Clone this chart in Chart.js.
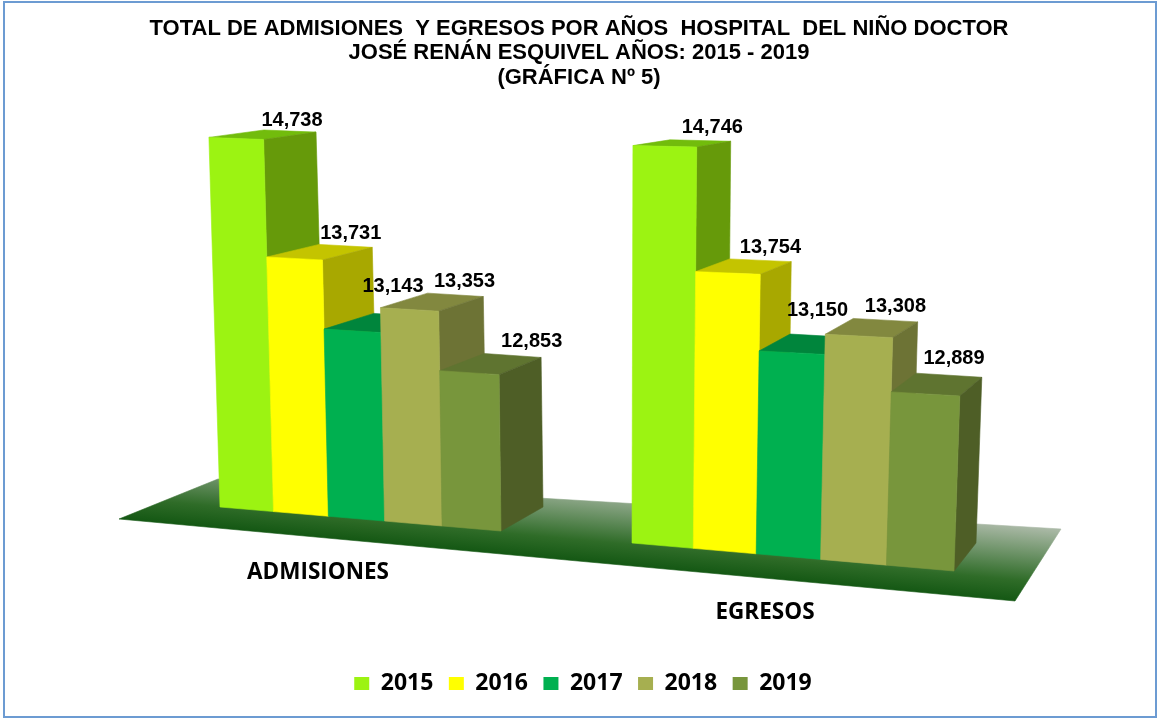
<!DOCTYPE html>
<html>
<head>
<meta charset="utf-8">
<title>Admisiones y egresos</title>
<script src="https://cdn.jsdelivr.net/npm/chart.js@4"></script>
<style>
  html, body { margin: 0; padding: 0; background: #fff; }
  canvas { display: block; }
</style>
</head>
<body>
<canvas id="grafica" width="1158" height="719"></canvas>
<script>
const categories = ['ADMISIONES', 'EGRESOS'];
const years = ['2015', '2016', '2017', '2018', '2019'];
const values2015 = [14738, 14746];
const values2016 = [13731, 13754];
const values2017 = [13143, 13150];
const values2018 = [13353, 13308];
const values2019 = [12853, 12889];
const titleLines = [
    'TOTAL DE ADMISIONES  Y EGRESOS POR AÑOS  HOSPITAL  DEL NIÑO DOCTOR',
    'JOSÉ RENÁN ESQUIVEL AÑOS: 2015 - 2019',
    '(GRÁFICA Nº 5)'
];

const frontColors = ['#9CF312', '#FFFF00', '#00B050', '#A6AF50', '#78963C'];
const sideColors = ['#669A0A', '#A8A800', '#007A38', '#6D7335', '#4E5E26'];
const topColors = ['#72BC0C', '#C4C400', '#00853C', '#82883F', '#5F7430'];

// where the front plane of each group lands on the page, the picture is a tilted 3D view
const views = [
    { bl: [220, 507], br: [501, 531], tl: [208, 107], tr: [496, 117], dxL: 55, dxR: 42, dyB: -24, dyT: -6,
      labelAt: [318, 573], nudge: [[2, -11], [5, -12], [-8, -29], [9, -13], [19, -14]] },
    { bl: [632, 543], br: [954, 571], tl: [633, 114], tr: [969, 120], dxL: 37, dxR: 22, dyB: -28, dyT: -4,
      labelAt: [765, 613], nudge: [[12, -13], [10, -13], [-4, -25], [10, -14], [5, -17]] }
];
const floorCorners = [[119, 519], [218, 479], [1061, 529], [1015, 601]];

function lerp(a, b, t) { return a + (b - a) * t; }

function project(view, u, v) {
    const k = u + 0.06 * u * (u - 1);
    const x = lerp(lerp(view.bl[0], view.br[0], k), lerp(view.tl[0], view.tr[0], k), v);
    const y = lerp(lerp(view.bl[1], view.br[1], k), lerp(view.tl[1], view.tr[1], k), v);
    return [x, y];
}

function behind(view, u, v, p) {
    return [p[0] + lerp(view.dxL, view.dxR, u), p[1] + lerp(view.dyB, view.dyT, v)];
}

function face(ctx, pts, color) {
    ctx.beginPath();
    pts.forEach((p, i) => i ? ctx.lineTo(p[0], p[1]) : ctx.moveTo(p[0], p[1]));
    ctx.closePath();
    ctx.fillStyle = color;
    ctx.strokeStyle = color;
    ctx.lineWidth = 0.6;
    ctx.fill();
    ctx.stroke();
}

const bars3d = {
    id: 'bars3d',
    beforeDatasetsDraw(chart) {
        const ctx = chart.ctx;
        const yScale = chart.scales.y;
        const base = yScale.getPixelForValue(yScale.min);
        const full = base - yScale.getPixelForValue(yScale.max);
        ctx.save();

        const grad = ctx.createLinearGradient(571, 562, 578, 486);
        grad.addColorStop(0, '#125612');
        grad.addColorStop(0.3, '#2F6C28');
        grad.addColorStop(1, '#A9B8A5');
        face(ctx, floorCorners, grad);

        const tags = [];
        views.forEach((view, c) => {
            const first = chart.getDatasetMeta(0).data[c];
            const left = first.x - first.width / 2;
            const span = first.width * years.length;
            years.forEach((year, d) => {
                const el = chart.getDatasetMeta(d).data[c];
                const u0 = (el.x - el.width / 2 - left) / span;
                const u1 = (el.x + el.width / 2 - left) / span;
                const v = (base - el.y) / full;
                const fl = project(view, u0, 0), fr = project(view, u1, 0);
                const tl = project(view, u0, v), tr = project(view, u1, v);
                const bl = behind(view, u0, v, tl), brt = behind(view, u1, v, tr);
                const brb = behind(view, u1, 0, fr);
                face(ctx, [tl, tr, brt, bl], topColors[d]);
                face(ctx, [tr, brt, brb, fr], sideColors[d]);
                face(ctx, [fl, fr, tr, tl], frontColors[d]);
                tags.push({
                    text: chart.data.datasets[d].data[c].toLocaleString('en-US'),
                    x: (bl[0] + brt[0]) / 2 + view.nudge[d][0],
                    y: (bl[1] + brt[1]) / 2 + view.nudge[d][1]
                });
            });
        });

        ctx.fillStyle = '#000';
        ctx.textAlign = 'center';
        ctx.textBaseline = 'middle';
        ctx.font = 'bold 20px "Liberation Sans"';
        tags.forEach(t => ctx.fillText(t.text, t.x, t.y));
        ctx.font = 'bold 22.5px "Open Sans"';
        views.forEach((view, c) => ctx.fillText(categories[c], view.labelAt[0], view.labelAt[1]));
        ctx.restore();
        return false;
    }
};

const pageFrame = {
    id: 'pageFrame',
    // legend sits a little right of centre in the original
    afterLayout(chart) {
        chart.legend.left += 8;
    },
    afterDraw(chart) {
        const ctx = chart.ctx;
        ctx.save();
        ctx.strokeStyle = '#6C9BD2';
        ctx.lineWidth = 2;
        ctx.strokeRect(4, 2, chart.width - 6, chart.height - 4);
        ctx.restore();
    }
};

new Chart(document.getElementById('grafica'), {
    type: 'bar',
    data: {
        labels: categories,
        datasets: [
            { label: years[0], data: values2015, backgroundColor: frontColors[0] },
            { label: years[1], data: values2016, backgroundColor: frontColors[1] },
            { label: years[2], data: values2017, backgroundColor: frontColors[2] },
            { label: years[3], data: values2018, backgroundColor: frontColors[3] },
            { label: years[4], data: values2019, backgroundColor: frontColors[4] }
        ]
    },
    options: {
        responsive: false,
        animation: false,
        layout: { padding: { top: 17, bottom: 14 } },
        datasets: { bar: { barPercentage: 1, categoryPercentage: 0.8 } },
        scales: {
            x: { display: false },
            y: { display: false, min: 11550, max: 15000 }
        },
        plugins: {
            tooltip: { enabled: false },
            title: {
                display: true,
                text: titleLines,
                color: '#000',
                font: { family: '"Liberation Sans"', size: 22, weight: 'bold', lineHeight: 1.1 },
                padding: 0
            },
            legend: {
                position: 'bottom',
                onClick: null,
                labels: {
                    color: '#000',
                    boxWidth: 15,
                    boxHeight: 13,
                    padding: 15.5,
                    font: { family: '"Open Sans"', size: 23, weight: 'bold' }
                }
            }
        }
    },
    plugins: [bars3d, pageFrame]
});
</script>
</body>
</html>
